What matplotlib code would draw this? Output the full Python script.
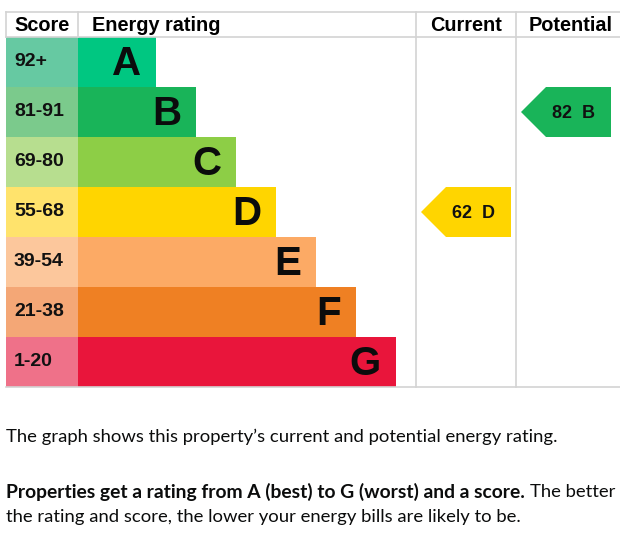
import matplotlib
matplotlib.use("Agg")
import matplotlib.pyplot as plt
from matplotlib.patches import Polygon

# chart data
bands = ["A", "B", "C", "D", "E", "F", "G"]
score_ranges = ["92+", "81-91", "69-80", "55-68", "39-54", "21-38", "1-20"]
band_colors = ["#00c781", "#19b459", "#8dce46", "#ffd500", "#fcaa65", "#ef8023", "#e9153b"]
score_colors = ["#66c9a2", "#7bca8c", "#b7de8f", "#ffe36c", "#fcc79c", "#f4a776", "#ef7189"]
bar_lengths = [78, 118, 158, 198, 238, 278, 318]  # px beyond the score column

current_score, current_band = 62, "D"
potential_score, potential_band = 82, "B"

# layout (pixels)
W, H = 620, 538
LEFT, SCORE_R = 6, 78
TOP, HEAD_B, ROW_H = 12, 37, 50
CUR_L, POT_L, RIGHT = 416, 516, 620
GRID = "#d3d3d3"
HEAD_FONT = "Liberation Sans"
BODY_FONT = "Lato"

fig = plt.figure(figsize=(W / 100, H / 100), dpi=100)
ax = fig.add_axes([0, 0, 1, 1])
ax.set_xlim(0, W)
ax.set_ylim(H, 0)
ax.axis("off")

n = len(bands)
centers = [HEAD_B + ROW_H * (i + 0.5) for i in range(n)]
bottom = HEAD_B + ROW_H * n

# score cells and rating bars
ax.barh(centers, [SCORE_R - LEFT] * n, left=LEFT, height=ROW_H, color=score_colors, linewidth=0)
ax.barh(centers, bar_lengths, left=SCORE_R, height=ROW_H, color=band_colors, linewidth=0)

for y, band, rng, length in zip(centers, bands, score_ranges, bar_lengths):
    ax.text(LEFT + 8, y, rng, fontsize=14, fontweight="bold", family=HEAD_FONT,
            va="center", ha="left", color="#111111")
    ax.text(SCORE_R + length - 15, y + 2, band, fontsize=29, fontweight="bold", family=HEAD_FONT,
            va="center", ha="right", color="#0b0c0c")

# grid lines
for y in (TOP, HEAD_B, bottom):
    ax.plot([LEFT, RIGHT], [y, y], color=GRID, lw=1.2)
ax.plot([LEFT, LEFT], [TOP, HEAD_B], color=GRID, lw=1.2)
ax.plot([SCORE_R, SCORE_R], [TOP, HEAD_B], color=GRID, lw=1.2)
for x in (CUR_L, POT_L):
    ax.plot([x, x], [TOP, bottom], color=GRID, lw=1.2)

# headers
hy = (TOP + HEAD_B) / 2 + 1
head_kw = dict(fontsize=14.3, fontweight="bold", family=HEAD_FONT, va="center")
ax.text(LEFT + 8, hy, "Score", **head_kw)
ax.text(SCORE_R + 14, hy, "Energy rating", **head_kw)
ax.text((CUR_L + POT_L) / 2, hy, "Current", ha="center", **head_kw)
ax.text((POT_L + RIGHT) / 2 + 3, hy, "Potential", ha="center", **head_kw)


def rating_arrow(col_left, score, band):
    i = bands.index(band)
    top = HEAD_B + ROW_H * i
    tip = col_left + 5
    right = col_left + 95
    pts = [(tip, top + ROW_H / 2), (tip + 25, top), (right, top), (right, top + ROW_H), (tip + 25, top + ROW_H)]
    ax.add_patch(Polygon(pts, closed=True, facecolor=band_colors[i], edgecolor="none"))
    ax.text(tip + 52, top + ROW_H / 2 + 1, f"{score}  {band}", fontsize=13, fontweight="bold",
            family=HEAD_FONT, va="center", ha="center", color="#111111")


rating_arrow(CUR_L, current_score, current_band)
rating_arrow(POT_L, potential_score, potential_band)

# explanatory text
txt_kw = dict(fontsize=13.3, family=BODY_FONT, va="center", ha="left", color="#0b0c0c")
ax.text(LEFT, 437, "The graph shows this property\u2019s current and potential energy rating.", **txt_kw)
bold = ax.text(LEFT, 492, "Properties get a rating from A (best) to G (worst) and a score.",
               fontweight="bold", **{**txt_kw, "fontsize": 13.9})
fig.canvas.draw()
bb = bold.get_window_extent().transformed(ax.transData.inverted())
ax.text(bb.x1 + 5, 492, "The better", **txt_kw)
ax.text(LEFT, 517, "the rating and score, the lower your energy bills are likely to be.", **txt_kw)

fig.savefig("out.png", dpi=100)
